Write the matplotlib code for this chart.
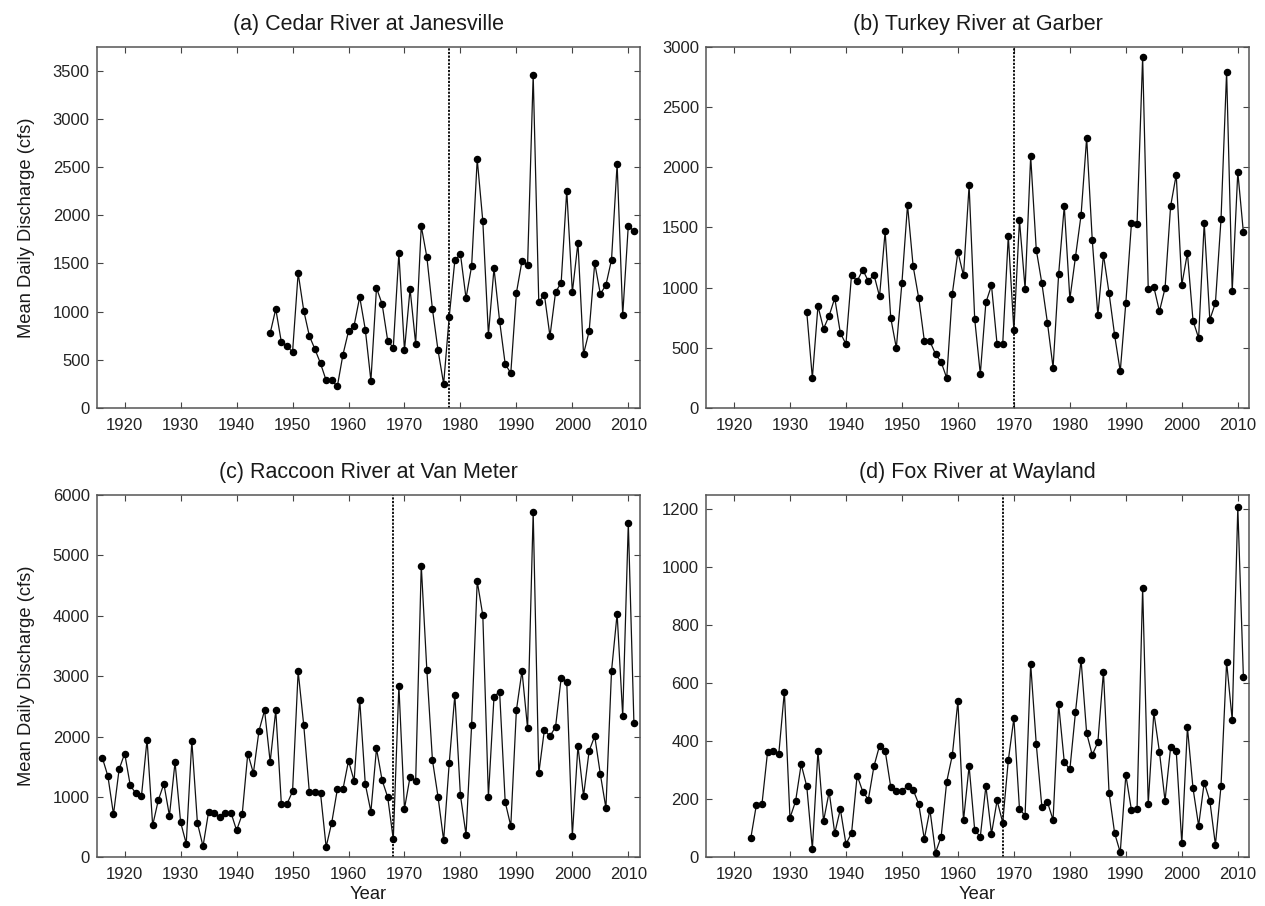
import matplotlib
matplotlib.use("Agg")
import matplotlib.pyplot as plt
import numpy as np

plt.rcParams['font.family'] = ['Liberation Sans', 'DejaVu Sans']

# ---------------- data ----------------
titles = ["(a) Cedar River at Janesville", "(b) Turkey River at Garber",
          "(c) Raccoon River at Van Meter", "(d) Fox River at Wayland"]

years_a = list(range(1946, 2012))
cedar = [776, 1027, 683, 645, 579, 1400, 1010, 748, 610, 462,
         287, 287, 224, 552, 796, 855, 1151, 814, 283, 1245,
         1080, 700, 624, 1607, 600, 1235, 666, 1887, 1566, 1024,
         597, 251, 948, 1531, 1597, 1139, 1472, 2580, 1938, 762,
         1449, 903, 455, 362, 1193, 1525, 1483, 3455, 1100, 1176,
         745, 1201, 1300, 2256, 1201, 1714, 559, 796, 1503, 1182,
         1276, 1538, 2532, 962, 1893, 1833]

years_b = list(range(1933, 2012))
turkey = [796, 249, 846, 658, 766, 912, 622,
          531, 1106, 1053, 1147, 1053, 1106, 926, 1465, 749, 498,
          1040, 1684, 1178, 912, 559, 553, 448, 382, 249, 948,
          1294, 1100, 1847, 738, 282, 876, 1017, 528, 528, 1427,
          644, 1557, 990, 2088, 1313, 1034, 705, 335, 1114, 1676,
          904, 1253, 1601, 2242, 1394, 771, 1272, 954, 603, 304,
          874, 1532, 1524, 2912, 990, 1004, 802, 993, 1676, 1936,
          1023, 1286, 724, 581, 1537, 733, 871, 1565, 2790, 970,
          1958, 1457]

years_c = list(range(1916, 2012))
raccoon = [1650, 1344, 711, 1455,
           1719, 1190, 1058, 1014, 1950, 529, 942, 1218, 689, 1576,
           579, 226, 1928, 568, 182, 755, 738, 661, 738, 738,
           446, 711, 1719, 1394, 2094, 2435, 1581, 2435, 882, 882,
           1091, 3080, 2187, 1080, 1080, 1058, 171, 573, 1124, 1124,
           1598, 1267, 2612, 1212, 755, 1802, 1278, 997, 298, 2838,
           804, 1333, 1262, 4832, 3097, 1609, 1000, 280, 1560, 2689,
           1025, 375, 2193, 4573, 4006, 1003, 2661, 2744, 915, 518,
           2435, 3086, 2138, 5714, 1389, 2110, 2006, 2160, 2970, 2898,
           358, 1846, 1014, 1763, 2006, 1378, 815, 3086, 4033, 2342,
           5538, 2230]

years_d = list(range(1923, 2012))
fox = [66, 181, 184, 364, 367, 356, 572,
       136, 193, 321, 245, 29, 366, 125, 226, 83, 166,
       46, 83, 282, 227, 199, 314, 385, 368, 243, 229,
       229, 246, 233, 184, 63, 164, 16, 70, 261, 352,
       539, 127, 315, 94, 71, 246, 81, 196, 120, 334,
       480, 167, 144, 667, 390, 173, 190, 129, 528, 329,
       303, 500, 682, 428, 353, 397, 641, 223, 83, 17,
       284, 163, 166, 930, 184, 500, 364, 195, 380, 367,
       48, 448, 238, 109, 258, 195, 43, 246, 674, 474,
       1207, 621]

change_years = [1978, 1970, 1968, 1968]
y_max = [3750, 3000, 6000, 1250]
y_top_tick = [3500, 3000, 6000, 1200]
y_step = [500, 500, 1000, 200]
x_ticks = [1920, 1930, 1940, 1950, 1960, 1970, 1980, 1990, 2000, 2010]

series = [(years_a, cedar), (years_b, turkey), (years_c, raccoon), (years_d, fox)]

# ---------------- figure ----------------
W, H = 1265, 906
fig = plt.figure(figsize=(W / 100, H / 100), dpi=100)

# axes boxes in pixels: (left, top, right, bottom)
boxes = [(96.7, 46.5, 639.5, 408), (706, 46.5, 1249, 408),
         (96.7, 495, 639.5, 857.3), (706, 495, 1249, 857.3)]

for i, (box, (yrs, vals)) in enumerate(zip(boxes, series)):
    l, t, r, b = box
    ax = fig.add_axes([l / W, 1 - b / H, (r - l) / W, (b - t) / H])
    ax.plot(yrs, vals, color='#111111', lw=0.9, marker='o', ms=4.4,
            mfc='black', mec='black', zorder=3)
    ax.axvline(change_years[i], color='black', lw=1.3,
               linestyle=(0, (1.2, 0.8)), zorder=2)
    ax.set_xlim(1915, 2012)
    ax.set_ylim(0, y_max[i])
    ax.set_xticks(x_ticks)
    ax.set_yticks(np.arange(0, y_top_tick[i] + 1, y_step[i]))
    ax.tick_params(direction='in', length=4, width=0.8, top=True, right=True,
                   labelsize=12, colors='#444444', labelcolor='#222222')
    ax.tick_params(axis='x', pad=7)
    ax.tick_params(axis='y', pad=5)
    for s in ax.spines.values():
        s.set_color('#555555')
        s.set_linewidth(1.1)
    ax.set_title(titles[i], fontsize=15.5, pad=12, color='#1a1a1a')
    if i in (0, 2):
        ax.set_ylabel("Mean Daily Discharge (cfs)", fontsize=13.2, labelpad=13,
                      color='#1a1a1a')
    if i in (2, 3):
        ax.set_xlabel("Year", fontsize=13.2, labelpad=3, color='#1a1a1a')

fig.savefig("out.png", dpi=100)
